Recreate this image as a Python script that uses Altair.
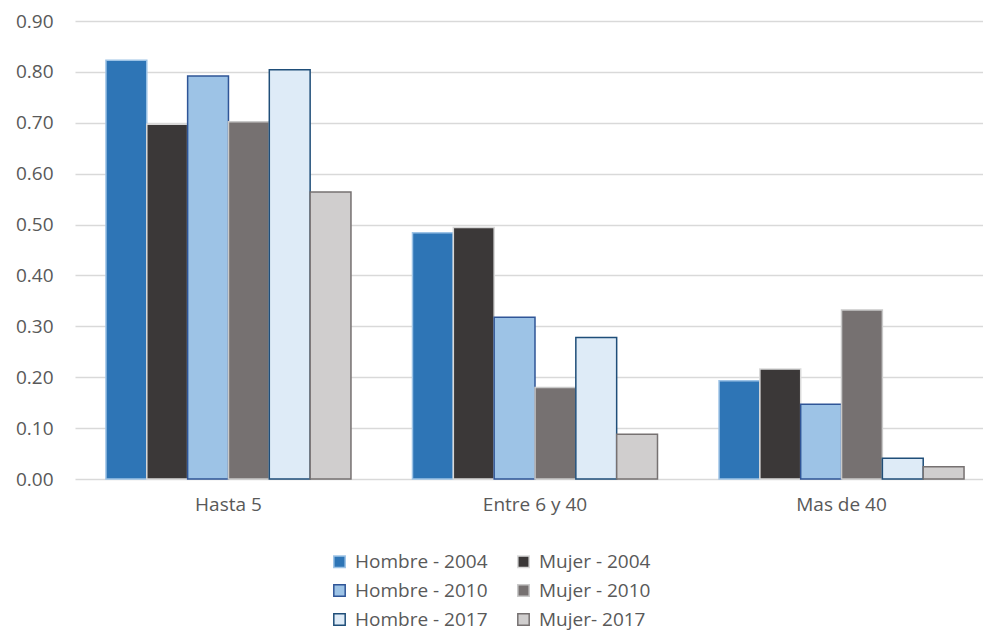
import altair as alt
import pandas as pd

categories = ["Hasta 5", "Entre 6 y 40", "Mas de 40"]
series = ["Hombre - 2004", "Mujer - 2004", "Hombre - 2010", "Mujer - 2010", "Hombre - 2017", "Mujer- 2017"]
values = {
    "Hombre - 2004": [0.823, 0.484, 0.193],
    "Mujer - 2004": [0.697, 0.494, 0.216],
    "Hombre - 2010": [0.792, 0.318, 0.147],
    "Mujer - 2010": [0.702, 0.180, 0.332],
    "Hombre - 2017": [0.804, 0.278, 0.041],
    "Mujer- 2017": [0.564, 0.088, 0.024],
}
fill_map = {
    "Hombre - 2004": "#2E75B6", "Mujer - 2004": "#3B3838",
    "Hombre - 2010": "#9DC3E6", "Mujer - 2010": "#767171",
    "Hombre - 2017": "#DEEBF7", "Mujer- 2017": "#D0CECE",
}
stroke_map = {
    "Hombre - 2004": "#9DC3E6", "Mujer - 2004": "#D9D9D9",
    "Hombre - 2010": "#2F5597", "Mujer - 2010": "#C9C9C9",
    "Hombre - 2017": "#1F4E79", "Mujer- 2017": "#767171",
}
# legend reads row by row; Vega fills columns first
legend_order = ["Hombre - 2004", "Hombre - 2010", "Hombre - 2017", "Mujer - 2004", "Mujer - 2010", "Mujer- 2017"]
y_ticks = [0, 0.1, 0.2, 0.3, 0.4, 0.5, 0.6, 0.7, 0.8, 0.9]

rows = []
for s in series:
    for c, v in zip(categories, values[s]):
        rows.append({"Categoria": c, "Serie": s, "Valor": v})
df = pd.DataFrame(rows)

font = "Open Sans"
legend = alt.Legend(
    title=None, orient="none", legendX=255, legendY=531, columns=2, padding=0,
    symbolType="square", symbolSize=130, symbolStrokeWidth=1.5,
    labelFont=font, labelFontSize=19, labelColor="#595959",
    rowPadding=9, columnPadding=26, symbolOffset=0, labelOffset=6,
)

chart = alt.Chart(df).mark_bar(strokeWidth=1.5).encode(
    x=alt.X("Categoria:N", sort=categories, title=None,
            scale=alt.Scale(paddingInner=0.2007, paddingOuter=0.101, range=[0, 920]),
            axis=alt.Axis(labelAngle=0, ticks=False, labelPadding=16, domain=False,
                          labelFont=font, labelFontSize=19, labelColor="#595959")),
    xOffset=alt.XOffset("Serie:N", sort=series, scale=alt.Scale(paddingInner=0, paddingOuter=0)),
    y=alt.Y("Valor:Q", title=None,
            scale=alt.Scale(domain=[0, 0.9], nice=False),
            axis=alt.Axis(values=y_ticks, format=".2f", ticks=False, domain=False,
                          labelFont=font, labelFontSize=19, labelColor="#595959",
                          labelPadding=22, gridColor="#D9D9D9", gridWidth=1.3)),
    fill=alt.Fill("Serie:N", scale=alt.Scale(domain=legend_order, range=[fill_map[s] for s in legend_order]), legend=legend),
    stroke=alt.Stroke("Serie:N", scale=alt.Scale(domain=legend_order, range=[stroke_map[s] for s in legend_order]), legend=legend),
).properties(
    width=895, height=458,
    autosize=alt.AutoSizeParams(type="none"),
    padding={"left": 75, "top": 21, "right": 13, "bottom": 152},
).configure_view(stroke=None)

chart.save("out.html", embed_options={"renderer": "svg", "actions": False})
